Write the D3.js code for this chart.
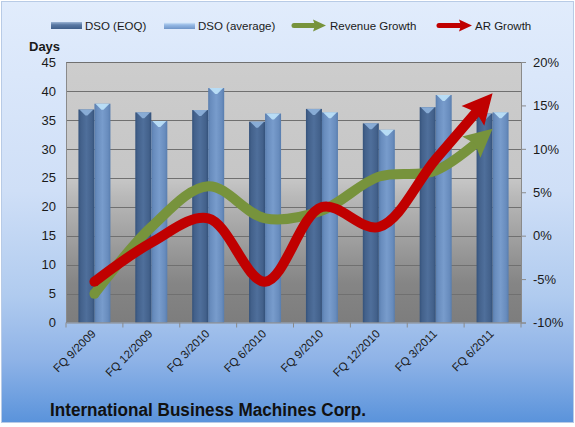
<!DOCTYPE html>
<html>
<head>
<meta charset="utf-8">
<script src="https://cdn.jsdelivr.net/npm/d3@7"></script>
<style>
  body { margin: 0; background: #fff; }
  svg { display: block; font-family: "Liberation Sans", Arial, sans-serif; }
</style>
</head>
<body>
<div id="chart"></div>
<script>
var categories = ["FQ 9/2009", "FQ 12/2009", "FQ 3/2010", "FQ 6/2010", "FQ 9/2010", "FQ 12/2010", "FQ 3/2011", "FQ 6/2011"];
var dsoEOQ = [36.8, 36.3, 36.7, 34.7, 36.9, 34.4, 37.2, 36.1];
var dsoAvg = [37.8, 34.8, 40.5, 36.1, 36.3, 33.3, 39.3, 36.3];
var revenueGrowth = [-6.7, 1.0, 5.7, 2.0, 2.9, 6.8, 7.5, 12.3];
var arGrowth = [-5.3, -0.8, 2.0, -5.3, 3.3, 1.0, 8.8, 16.4];
var dayTicks = [0, 5, 10, 15, 20, 25, 30, 35, 40, 45];
var pctTicks = [-10, -5, 0, 5, 10, 15, 20];

var width = 575, height = 427;
var plot = { left: 66, right: 521, top: 62, bottom: 322.5 };

var svg = d3.select('#chart').append('svg').attr('width', width).attr('height', height);
var defs = svg.append('defs');

function linGrad(id, x2, y2, stops) {
    var g = defs.append('linearGradient').attr('id', id)
        .attr('x1', 0).attr('y1', 0).attr('x2', x2).attr('y2', y2);
    stops.forEach(function(s) {
        g.append('stop').attr('offset', s[0]).attr('stop-color', s[1]);
    });
}

linGrad('bgGrad', 0, 1, [[0, '#e1ecfc'], [0.45, '#cfdff7'], [0.7, '#b0cbef'], [0.85, '#8fb3e7'], [1, '#5a93db']]);
linGrad('plotGrad', 0, 1, [[0, '#cdcdcd'], [0.45, '#c6c6c6'], [0.52, '#b8b8b8'], [0.85, '#858585'], [1, '#7d7d7d']]);
linGrad('eoqGrad', 1, 0, [[0, '#34527b'], [0.15, '#43618b'], [0.5, '#4f6f9b'], [0.85, '#43618b'], [1, '#33517a']]);
linGrad('avgGrad', 1, 0, [[0, '#587dae'], [0.15, '#688cbd'], [0.5, '#789ccc'], [0.85, '#688cbd'], [1, '#587dae']]);
linGrad('eoqLeg', 0, 1, [[0, '#9db5d6'], [0.4, '#5a79a4'], [1, '#3f5e8a']]);
linGrad('avgLeg', 0, 1, [[0, '#e6f3ff'], [0.4, '#98bbe6'], [1, '#6f95c8']]);

// chart background
svg.append('rect').attr('x', 1.5).attr('y', 1.5).attr('width', width - 3).attr('height', 421)
    .attr('fill', 'url(#bgGrad)').attr('stroke', '#b8cbe6');

// plot area
svg.append('rect').attr('x', plot.left).attr('y', plot.top)
    .attr('width', plot.right - plot.left).attr('height', plot.bottom - plot.top)
    .attr('fill', 'url(#plotGrad)');

var x0 = d3.scaleBand().domain(categories).range([plot.left, plot.right]);
var x1 = d3.scaleBand().domain(['eoq', 'avg']).range([-16, 16]);
var yL = d3.scaleLinear().domain([0, 45]).range([plot.bottom, plot.top]);
var yR = d3.scaleLinear().domain([-10, 20]).range([plot.bottom, plot.top]);

// gridlines
svg.append('g').selectAll('line').data(dayTicks.slice(1)).enter().append('line')
    .attr('x1', plot.left).attr('x2', plot.right)
    .attr('y1', function(d) { return Math.round(yL(d)) + 0.5; })
    .attr('y2', function(d) { return Math.round(yL(d)) + 0.5; })
    .attr('stroke', '#707070').attr('stroke-width', 1);

// bars
var rows = categories.map(function(c, i) {
    return { cat: c, vals: [{ key: 'eoq', v: dsoEOQ[i] }, { key: 'avg', v: dsoAvg[i] }] };
});
var groups = svg.append('g').selectAll('g').data(rows).enter().append('g')
    .attr('transform', function(d) { return 'translate(' + (x0(d.cat) + x0.bandwidth() / 2) + ',0)'; });
var bw = x1.bandwidth();
groups.selectAll('rect').data(function(d) { return d.vals; }).enter().append('rect')
    .attr('x', function(d) { return x1(d.key); })
    .attr('y', function(d) { return yL(d.v); })
    .attr('width', bw)
    .attr('height', function(d) { return yL(0) - yL(d.v); })
    .attr('fill', function(d) { return d.key === 'eoq' ? 'url(#eoqGrad)' : 'url(#avgGrad)'; });
// bevelled cap
groups.selectAll('path.cap').data(function(d) { return d.vals; }).enter().append('path')
    .attr('class', 'cap')
    .attr('d', function(d) {
        var x = x1(d.key), y = yL(d.v);
        return 'M' + (x + 1) + ',' + y + 'L' + (x + bw - 1) + ',' + y +
            'L' + (x + bw / 2 + 1) + ',' + (y + 6) + 'L' + (x + bw / 2 - 1) + ',' + (y + 6) + 'Z';
    })
    .attr('fill', function(d) { return d.key === 'eoq' ? '#8fb2dc' : '#bfe3fa'; })
    .attr('opacity', 0.9);

// lines with arrow heads
function arrowLine(data, color, lw, head) {
    var line = d3.line()
        .x(function(d, i) { return x0(categories[i]) + x0.bandwidth() / 2; })
        .y(function(d) { return yR(d); })
        .curve(d3.curveCatmullRom.alpha(0.5));
    var p = svg.append('path').attr('d', line(data))
        .attr('fill', 'none').attr('stroke', color).attr('stroke-width', lw)
        .attr('stroke-linejoin', 'round');
    var node = p.node();
    var L = node.getTotalLength();
    p.attr('stroke-dasharray', (L - head.len * 0.7) + ',' + (L + 100));
    // round start cap
    var s = node.getPointAtLength(0);
    svg.append('circle').attr('cx', s.x).attr('cy', s.y).attr('r', lw / 2).attr('fill', color);
    var tip = node.getPointAtLength(L);
    var back = node.getPointAtLength(L - head.len);
    drawHead(tip, back, color, head);
}

function drawHead(tip, back, color, head) {
    var dx = tip.x - back.x, dy = tip.y - back.y;
    var n = Math.sqrt(dx * dx + dy * dy);
    var ux = dx / n, uy = dy / n;
    var bx = tip.x - ux * head.len, by = tip.y - uy * head.len;
    var nx = bx + ux * head.notch, ny = by + uy * head.notch;
    var pts = [
        [tip.x, tip.y],
        [bx - uy * head.w, by + ux * head.w],
        [nx, ny],
        [bx + uy * head.w, by - ux * head.w]
    ];
    svg.append('path').attr('d', 'M' + pts.join('L') + 'Z').attr('fill', color);
}

arrowLine(revenueGrowth, '#77933c', 10, { len: 28, w: 14, notch: 5 });
arrowLine(arGrowth, '#c00000', 10, { len: 30, w: 15, notch: 5 });

// axes
var leftAxis = svg.append('g').attr('transform', 'translate(' + plot.left + ',0)')
    .call(d3.axisLeft(yL).tickValues(dayTicks).tickSize(0).tickPadding(10));
leftAxis.select('.domain').attr('stroke', '#8a8a8a');
leftAxis.selectAll('text').attr('font-size', 13).attr('fill', '#1a1a1a');

var rightAxis = svg.append('g').attr('transform', 'translate(' + plot.right + ',0)')
    .call(d3.axisRight(yR).tickValues(pctTicks).tickSize(5).tickPadding(7)
        .tickFormat(function(d) { return d + '%'; }));
rightAxis.select('.domain').attr('stroke', '#8a8a8a');
rightAxis.selectAll('line').attr('stroke', '#8a8a8a');
rightAxis.selectAll('text').attr('font-size', 13).attr('fill', '#1a1a1a');

var bottomAxis = svg.append('g').attr('transform', 'translate(0,' + plot.bottom + ')')
    .call(d3.axisBottom(x0).tickSize(0).tickPadding(0));
bottomAxis.select('.domain').attr('stroke', '#8a8a8a');
bottomAxis.selectAll('text')
    .attr('font-size', 11.5).attr('fill', '#1a1a1a')
    .attr('text-anchor', 'end')
    .attr('dy', 0).attr('y', 0)
    .attr('transform', 'translate(2,12) rotate(-45)');
// category boundary ticks
var bounds = categories.map(function(c) { return x0(c); }).concat([plot.right]);
bottomAxis.append('g').selectAll('line').data(bounds).enter().append('line')
    .attr('x1', function(d) { return d; }).attr('x2', function(d) { return d; })
    .attr('y1', 0).attr('y2', 5).attr('stroke', '#8a8a8a');

svg.append('text').attr('x', 29).attr('y', 51).text('Days')
    .attr('font-size', 13).attr('font-weight', 'bold').attr('fill', '#1a1a1a');

// legend
var leg = svg.append('g').attr('font-size', 11.5).attr('fill', '#1a1a1a');
leg.append('rect').attr('x', 51).attr('y', 22).attr('width', 31).attr('height', 7).attr('fill', 'url(#eoqLeg)');
leg.append('text').attr('x', 85).attr('y', 30).text('DSO (EOQ)');
leg.append('rect').attr('x', 164).attr('y', 22).attr('width', 31).attr('height', 7).attr('fill', 'url(#avgLeg)');
leg.append('text').attr('x', 198).attr('y', 30).text('DSO (average)');
leg.append('line').attr('x1', 294).attr('x2', 314).attr('y1', 25.5).attr('y2', 25.5)
    .attr('stroke', '#77933c').attr('stroke-width', 5).attr('stroke-linecap', 'round');
drawHead({ x: 326, y: 25.5 }, { x: 300, y: 25.5 }, '#77933c', { len: 13, w: 6, notch: 2 });
leg.append('text').attr('x', 330).attr('y', 30).text('Revenue Growth');
leg.append('line').attr('x1', 439).attr('x2', 460).attr('y1', 25.5).attr('y2', 25.5)
    .attr('stroke', '#c00000').attr('stroke-width', 5).attr('stroke-linecap', 'round');
drawHead({ x: 472, y: 25.5 }, { x: 445, y: 25.5 }, '#c00000', { len: 13, w: 6, notch: 2 });
leg.append('text').attr('x', 475).attr('y', 30).text('AR Growth');

// title
svg.append('text').attr('x', 50).attr('y', 416)
    .attr('font-size', 18).attr('font-weight', 'bold').attr('fill', '#111')
    .attr('textLength', 316).attr('lengthAdjust', 'spacingAndGlyphs')
    .text('International Business Machines Corp.');
</script>
</body>
</html>
